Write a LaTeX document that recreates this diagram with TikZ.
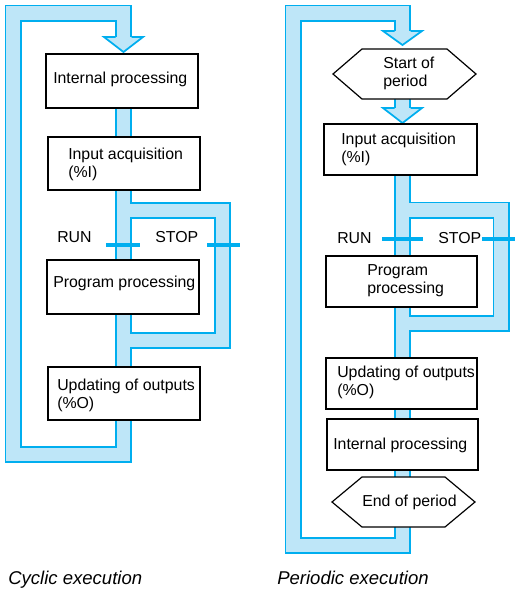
\documentclass[tikz,border=0pt]{standalone}
\usepackage{fontspec}
\setmainfont{Liberation Sans}
\usetikzlibrary{fit}
\definecolor{bandblue}{RGB}{0,174,239}
\definecolor{bandfill}{RGB}{190,230,248}
\begin{document}
\begin{tikzpicture}[x=0.75pt,y=-0.75pt,
  bandout/.style={draw=bandblue,line width=12.75pt,line join=miter},
  bandin/.style={draw=bandfill,line width=10.1pt,line join=miter},
  arrowhd/.style={fill=bandfill,draw=bandblue,line width=1.3pt,line join=miter},
  switchmark/.style={draw=bandblue,line width=2.3pt},
  procbox/.style={draw=black,fill=white,line width=0.9pt,inner sep=0pt},
  hexbox/.style={draw=black,fill=white,line width=0.9pt,line join=miter},
  lbl/.style={font=\fontsize{11.9}{13.5}\selectfont,inner sep=0pt,align=left,anchor=base west},
  caption/.style={font=\fontsize{13.9}{16}\selectfont\itshape,inner sep=0pt,anchor=base west}
]
\useasboundingbox (0,0) rectangle (515,590);

% ---------- band outlines (blue) ----------
\draw[bandout] (123.5,100) -- (123.5,454.5) -- (13,454.5) -- (13,13) -- (123.5,13) -- (123.5,37);
\draw[bandout] (123.5,210.5) -- (222.5,210.5) -- (222.5,340.5) -- (123.5,340.5);
\draw[bandout] (402.5,170) -- (402.5,545.5) -- (293,545.5) -- (293,13) -- (402.5,13) -- (402.5,31);
\draw[bandout] (402.5,210) -- (501,210) -- (501,323.5) -- (402.5,323.5);
\draw[bandout] (402.5,95) -- (402.5,108);

% ---------- arrowheads ----------
\filldraw[arrowhd] (115.5,37) -- (104,37) -- (123.5,52) -- (143,37) -- (131.5,37);
\filldraw[arrowhd] (394.5,31) -- (383,31) -- (402.5,45) -- (422,31) -- (410.5,31);
\filldraw[arrowhd] (394.5,108) -- (383,108) -- (402.5,123) -- (422,108) -- (410.5,108);

% ---------- band interiors (light) ----------
\draw[bandin] (123.5,100) -- (123.5,454.5) -- (13,454.5) -- (13,13) -- (123.5,13) -- (123.5,38.5);
\draw[bandin] (123.5,210.5) -- (222.5,210.5) -- (222.5,340.5) -- (123.5,340.5);
\draw[bandin] (402.5,170) -- (402.5,545.5) -- (293,545.5) -- (293,13) -- (402.5,13) -- (402.5,32.5);
\draw[bandin] (402.5,210) -- (501,210) -- (501,323.5) -- (402.5,323.5);
\draw[bandin] (402.5,95) -- (402.5,109.5);

% ---------- RUN / STOP marks ----------
\coordinate (lr1) at (106,245); \coordinate (lr2) at (140,245);
\coordinate (ls1) at (207,245); \coordinate (ls2) at (240,245);
\coordinate (rr1) at (382,239); \coordinate (rr2) at (423,239);
\coordinate (rs1) at (482,239); \coordinate (rs2) at (515,239);
\draw[switchmark] (lr1) -- (lr2);
\draw[switchmark] (ls1) -- (ls2);
\draw[switchmark] (rr1) -- (rr2);
\draw[switchmark] (rs1) -- (rs2);
\node[lbl] (lrun) at (57,242) {RUN};
\node[lbl] (lstop) at (155,242) {STOP};
\node[lbl] (rrun) at (337,243) {RUN};
\node[lbl] (rstop) at (438,243) {STOP};

% ---------- left boxes ----------
\node[procbox,fit={(46,54) (198,108)}] (lint) {};
\node[procbox,fit={(48,137) (200,190)}] (linp) {};
\node[procbox,fit={(47,260) (199,314)}] (lprg) {};
\node[procbox,fit={(48,367) (200,420)}] (lupd) {};
\node[lbl] (lintt) at (53,83) {Internal processing};
\node[lbl] (linpt) at (68,177) {Input acquisition\\(\%I)};
\node[lbl] (lprgt) at (53,287) {Program processing};
\node[lbl] (lupdt) at (57,408) {Updating of outputs\\(\%O)};

% ---------- right boxes ----------
\filldraw[hexbox] (333,74) -- (362,49) -- (447,49) -- (476,74) -- (447,99) -- (362,99) -- cycle;
\node[lbl] (rstart) at (383,86) {Start of\\period};
\node[procbox,fit={(324,124) (477,175)}] (rinp) {};
\node[procbox,fit={(326,256) (477,307)}] (rprg) {};
\node[procbox,fit={(326,358) (477,409)}] (rupd) {};
\node[procbox,fit={(327,419) (478,470)}] (rint) {};
\node[lbl] (rinpt) at (341,162) {Input acquisition\\(\%I)};
\node[lbl] (rprgt) at (367,293) {Program\\processing};
\node[lbl] (rupdt) at (337,395) {Updating of outputs\\(\%O)};
\node[lbl] (rintt) at (333,449) {Internal processing};
\filldraw[hexbox] (332,502) -- (362,477) -- (445,477) -- (475,502) -- (445,527) -- (362,527) -- cycle;
\node[lbl] (rend) at (362,506) {End of period};

% ---------- captions ----------
\node[caption] (capl) at (8,584) {Cyclic execution};
\node[caption] (capr) at (277,584) {Periodic execution};
\end{tikzpicture}
\end{document}
